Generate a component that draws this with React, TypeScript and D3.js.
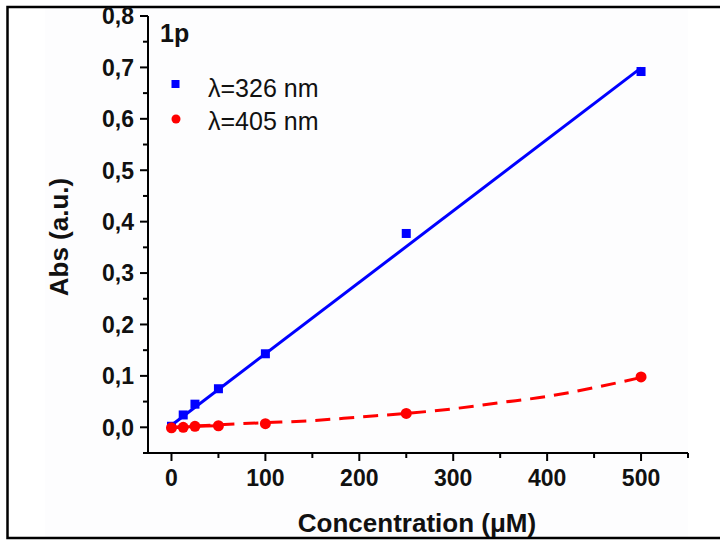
import React from "react";
import * as d3 from "d3";

const concentrations = [0, 12.5, 25, 50, 100, 250, 500];
const abs326 = [0.002, 0.024, 0.045, 0.075, 0.143, 0.377, 0.692];
const abs405 = [-0.001, 0.0, 0.002, 0.003, 0.007, 0.027, 0.098];

// fitted curves
const fit326X = [0, 500];
const fit326Y = [0.004, 0.699];
const fit405X = [0, 50, 100, 150, 200, 250, 300, 350, 400, 450, 500];
const fit405Y = [0.0, 0.005, 0.009, 0.013, 0.02, 0.027, 0.036, 0.048, 0.06, 0.077, 0.097];

const xMajorTicks = [0, 100, 200, 300, 400, 500];
const xMinorTicks = [50, 150, 250, 350, 450, 550];
const yMajorTicks = [0, 0.1, 0.2, 0.3, 0.4, 0.5, 0.6, 0.7, 0.8];
const yMinorTicks = [-0.05, 0.05, 0.15, 0.25, 0.35, 0.45, 0.55, 0.65, 0.75];

const seriesNames = ["\u03bb=326 nm", "\u03bb=405 nm"];
const panelLabel = "1p";
const xTitle = "Concentration (\u03bcM)";
const yTitle = "Abs (a.u.)";

const W = 720;
const H = 544;
const FONT = "'Liberation Sans', Arial, sans-serif";

export default function App() {
  const x = d3.scaleLinear().domain([-25, 550]).range([148, 688]);
  const y = d3.scaleLinear().domain([-0.05, 0.8]).range([453, 16]);
  const fmt = (v: number) => d3.format(".1f")(v).replace(".", ",");

  const line = d3
    .line<[number, number]>()
    .x((d) => x(d[0]))
    .y((d) => y(d[1]));
  const curve = d3
    .line<[number, number]>()
    .x((d) => x(d[0]))
    .y((d) => y(d[1]))
    .curve(d3.curveMonotoneX);

  const fitBlue = fit326X.map((v, i) => [v, fit326Y[i]] as [number, number]);
  const fitRed = fit405X.map((v, i) => [v, fit405Y[i]] as [number, number]);
  const redJoin = concentrations
    .slice(0, 4)
    .map((v, i) => [v, abs405[i]] as [number, number]);

  const x0 = x.range()[0];
  const y0 = y.range()[0];

  return (
    <svg
      width={W}
      height={H}
      style={{ position: "absolute", left: 0, top: 0, background: "#fff" }}
      fontFamily={FONT}
    >
      <rect x={45} y={8} width={643} height={529} fill="#fdfdfe" />
      <path d={`M${W},7 H7.5 V538 H${W}`} fill="none" stroke="#000" strokeWidth={2.5} />

      {/* axes */}
      <line x1={x0} x2={x0} y1={y(0.8)} y2={y0 + 1} stroke="#000" strokeWidth={2} />
      <line x1={x0 - 1} x2={x.range()[1]} y1={y0} y2={y0} stroke="#000" strokeWidth={2} />
      {xMajorTicks.map((t) => (
        <g key={"xm" + t}>
          <line x1={x(t)} x2={x(t)} y1={y0} y2={y0 + 8} stroke="#000" strokeWidth={2} />
          <text
            x={x(t)}
            y={486}
            textAnchor="middle"
            fontWeight="bold"
            fontSize={23}
            fill="#111"
          >
            {t}
          </text>
        </g>
      ))}
      {xMinorTicks.map((t) => (
        <line key={"xn" + t} x1={x(t)} x2={x(t)} y1={y0} y2={y0 + 5} stroke="#000" strokeWidth={2} />
      ))}
      {yMajorTicks.map((t) => (
        <g key={"ym" + t}>
          <line x1={x0 - 8} x2={x0} y1={y(t)} y2={y(t)} stroke="#000" strokeWidth={2} />
          <text
            x={134}
            y={y(t)}
            dy="0.36em"
            textAnchor="end"
            fontWeight="bold"
            fontSize={23}
            fill="#111"
          >
            {fmt(t)}
          </text>
        </g>
      ))}
      {yMinorTicks.map((t) => (
        <line key={"yn" + t} x1={x0 - 5} x2={x0} y1={y(t)} y2={y(t)} stroke="#000" strokeWidth={2} />
      ))}

      {/* axis titles */}
      <text x={417} y={532} textAnchor="middle" fontWeight="bold" fontSize={26} fill="#111">
        {xTitle}
      </text>
      <text
        transform={`translate(68,${237}) rotate(-90)`}
        textAnchor="middle"
        fontWeight="bold"
        fontSize={26}
        fill="#111"
      >
        {yTitle}
      </text>

      {/* fits */}
      <path d={line(fitBlue) || ""} fill="none" stroke="#0000ff" strokeWidth={3} />
      <path
        d={curve(fitRed) || ""}
        fill="none"
        stroke="#ff0000"
        strokeWidth={3}
        strokeDasharray="15,9"
        strokeDashoffset={-48}
      />
      <path d={line(redJoin) || ""} fill="none" stroke="#ff0000" strokeWidth={3} />

      {/* points */}
      {concentrations.map((c, i) => (
        <rect
          key={"b" + i}
          x={x(c) - 4.5}
          y={y(abs326[i]) - 4.5}
          width={9}
          height={9}
          fill="#0000ff"
        />
      ))}
      {concentrations.map((c, i) => (
        <circle key={"r" + i} cx={x(c)} cy={y(abs405[i])} r={5.5} fill="#ff0000" />
      ))}

      {/* legend */}
      <text x={160} y={42} fontWeight="bold" fontSize={25} fill="#111">
        {panelLabel}
      </text>
      <rect x={171.5} y={80} width={8} height={8} fill="#0000ff" />
      <circle cx={176} cy={119} r={4.5} fill="#ff0000" />
      <text x={208} y={96.5} fontSize={25} fill="#111">
        {seriesNames[0]}
      </text>
      <text x={208} y={130} fontSize={25} fill="#111">
        {seriesNames[1]}
      </text>
    </svg>
  );
}
